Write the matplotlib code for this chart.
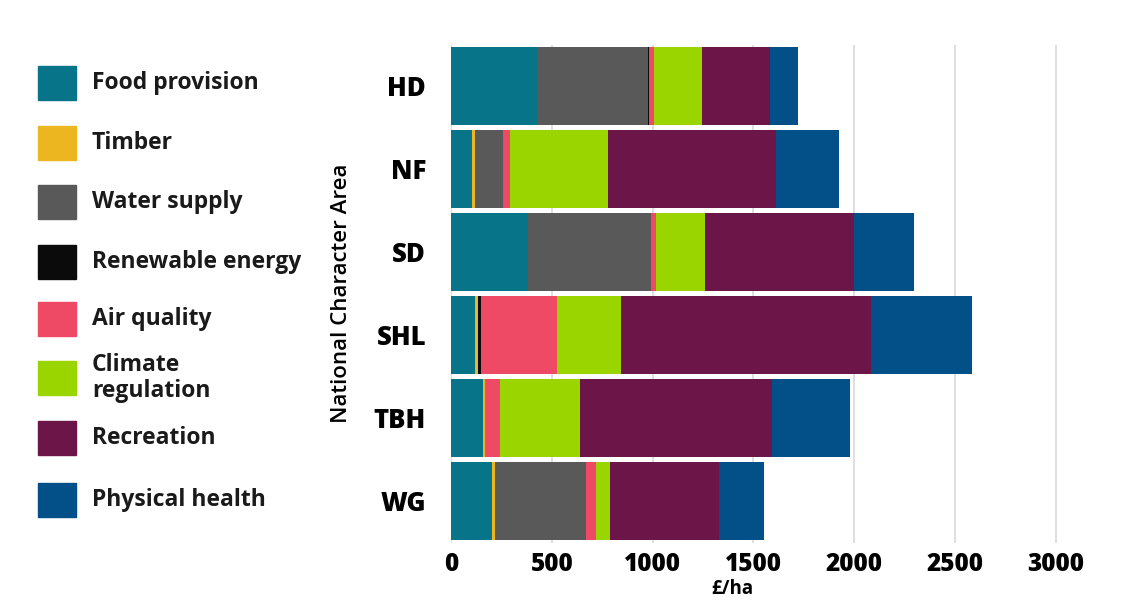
import matplotlib.pyplot as plt
import numpy as np
from matplotlib.patches import Rectangle

areas = ["HD", "NF", "SD", "SHL", "TBH", "WG"]
services = [
    "Food provision",
    "Timber",
    "Water supply",
    "Renewable energy",
    "Air quality",
    "Climate\nregulation",
    "Recreation",
    "Physical health",
]
# values in £/ha
food = [425, 102, 382, 121, 157, 202]
timber = [4, 15, 0, 12, 12, 15]
water = [548, 139, 608, 0, 0, 452]
renewable = [4, 0, 2, 18, 0, 0]
air = [26, 38, 27, 375, 75, 52]
climate = [237, 487, 242, 315, 394, 68]
recreation = [340, 833, 736, 1245, 956, 540]
health = [137, 310, 302, 497, 385, 224]

colors = ["#08748a", "#ebb61f", "#595959", "#0b0b0b",
          "#ee4a65", "#9bd500", "#6c1549", "#034f88"]

plt.rcParams["font.family"] = ["Open Sans", "DejaVu Sans"]

fig = plt.figure(figsize=(11.26, 6.01), dpi=100)
ax = fig.add_axes([451 / 1126, 1 - 542.5 / 601, 645 / 1126, 498 / 601])

series = [food, timber, water, renewable, air, climate, recreation, health]
y = np.arange(len(areas))
left = np.zeros(len(areas))
for vals, col in zip(series, colors):
    ax.barh(y, vals, left=left, height=0.93, color=col, edgecolor="none", zorder=2)
    left += np.array(vals)

ax.set_xlim(0, 3200)
ax.set_ylim(len(areas) - 0.5, -0.5)
ax.set_xticks(np.arange(0, 3001, 500))
ax.set_yticks(y)
ax.set_yticklabels(areas, fontsize=18.5, fontweight=800)
for lab in ax.get_xticklabels():
    lab.set_fontsize(17.5)
    lab.set_fontweight(800)
ax.tick_params(length=0, pad=7)
ax.tick_params(axis="y", pad=18)
ax.grid(axis="x", color="#d9d9d9", lw=1.2, zorder=0)
for s in ax.spines.values():
    s.set_visible(False)
ax.set_xlabel("£/ha", fontsize=13.5, fontweight="bold")
ax.xaxis.set_label_coords(0.436, -0.073)
ax.set_ylabel("National Character Area", fontsize=16, fontweight="semibold", labelpad=16)

# legend panel
leg_y = [83, 143, 202, 262, 319, 378, 438, 500]
for name, col, yc in zip(services, colors, leg_y):
    fig.patches.append(Rectangle((38 / 1126, 1 - (yc + 17) / 601), 38 / 1126, 34 / 601,
                                 transform=fig.transFigure, color=col, figure=fig))
    fig.text(92 / 1126, 1 - yc / 601, name, fontsize=16.5, fontweight="bold",
             va="center", ha="left", color="#1a1a1a", linespacing=1.15)

fig.savefig("out.png", dpi=100, facecolor="white")
